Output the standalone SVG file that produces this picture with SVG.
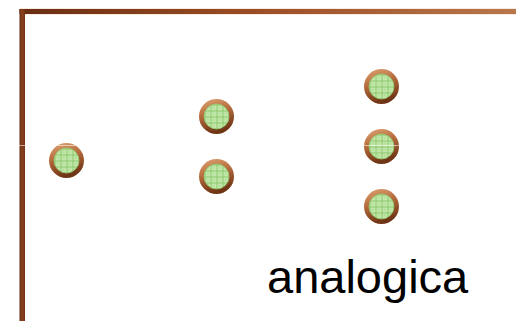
<svg xmlns="http://www.w3.org/2000/svg" width="516" height="321" viewBox="0 0 516 321">
<defs>
<linearGradient id="barH" x1="0" y1="0" x2="1" y2="0">
<stop offset="0" stop-color="#6A2D12"/>
<stop offset="0.5" stop-color="#9E5026"/>
<stop offset="1" stop-color="#B8774A"/>
</linearGradient>
<linearGradient id="barV" x1="0" y1="0" x2="1" y2="0">
<stop offset="0" stop-color="#6A2D12"/>
<stop offset="0.5" stop-color="#8A4220"/>
<stop offset="1" stop-color="#6E3015"/>
</linearGradient>
<linearGradient id="ring" x1="0" y1="0" x2="0.3" y2="1">
<stop offset="0" stop-color="#E0A677"/>
<stop offset="0.45" stop-color="#B86E3E"/>
<stop offset="1" stop-color="#6E3414"/>
</linearGradient>
<pattern id="mesh" width="6" height="6" patternUnits="userSpaceOnUse">
<rect width="6" height="6" fill="#C3E7AB"/>
<path d="M0 0.5H6M0.5 0V6" stroke="#8CC86A" stroke-width="1"/>
<rect x="2.5" y="2.5" width="1.5" height="1.5" fill="#A8D68C"/>
</pattern>
<g id="wire">
<circle r="17.5" fill="url(#ring)"/>
<circle r="12.5" fill="url(#mesh)"/>
<circle r="12.5" fill="none" stroke="#8FC870" stroke-width="0.8"/>
</g>
</defs>
<style>
.label{font-family:"Liberation Sans",Arial,sans-serif;font-size:47px;fill:#000}
</style>
<g id="frame">
<rect x="19.5" y="8.5" width="497" height="6" fill="#F2D6C2"/>
<rect x="19.5" y="9" width="497" height="5" fill="url(#barH)"/>
<rect x="19.5" y="9" width="5.5" height="312" fill="url(#barV)"/>
</g>
<g id="node1"><use href="#wire" x="66.5" y="160.5"/></g>
<g id="node2"><use href="#wire" x="216.5" y="116.5"/></g>
<g id="node3"><use href="#wire" x="216.5" y="176.5"/></g>
<g id="node4"><use href="#wire" x="381.5" y="86.5"/></g>
<g id="node5"><use href="#wire" x="381.5" y="146.5"/></g>
<g id="node6"><use href="#wire" x="381.5" y="206.5"/></g>
<g id="connectors">
<line x1="0" y1="145.5" x2="516" y2="145.5" stroke="#FFFFFF" stroke-opacity="0.55" stroke-width="1"/>
</g>
<text class="label" x="267" y="293">analogica</text>
</svg>
